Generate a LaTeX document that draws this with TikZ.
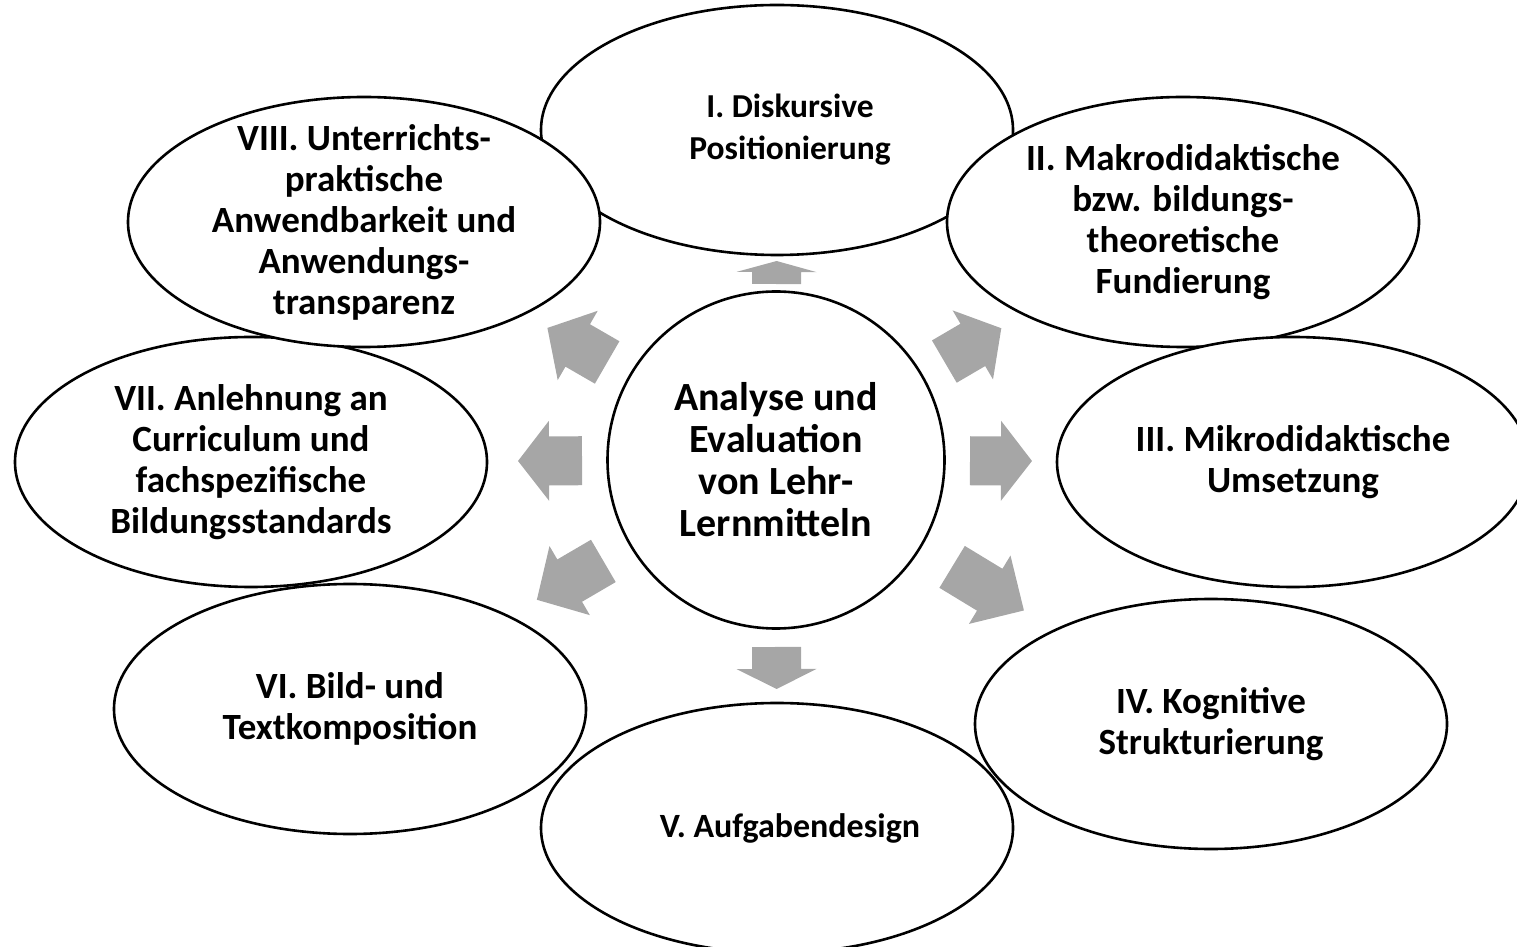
\documentclass[tikz,border=0pt]{standalone}
\usepackage{fontspec}
\setmainfont{Carlito}
\usetikzlibrary{shapes.geometric,calc}
\definecolor{arrowgray}{RGB}{166,166,166}

\begin{document}
\begin{tikzpicture}[x=1pt,y=1pt,
    bubble/.style={draw,fill=white,ellipse,line width=2.6pt,minimum width=472pt,minimum height=250pt,inner sep=0pt},
    caption/.style={align=center,inner sep=0pt,font=\fontsize{37}{41}\selectfont\bfseries},
    smallcaption/.style={caption,xshift=13pt,font=\fontsize{#1}{42}\selectfont\bfseries},
    hub/.style={draw,fill=white,circle,line width=2.6pt,minimum size=337pt,inner sep=0pt,align=center,font=\fontsize{40}{42}\selectfont\bfseries}]
  \useasboundingbox (0,0) rectangle (1517,946);
  \node[hub] (ctr) at (776,486) {Analyse und\\Evaluation\\von Lehr-\\Lernmitteln};
  \node[bubble,label={[smallcaption=33.5]center:{I. Diskursive\\Positionierung}}] (e1) at (777,816) {};
  \node[bubble,label={[caption]center:{II. Makrodidaktische\\bzw. bildungs-\\theoretische\\Fundierung}}] (e2) at (1183,724) {};
  \node[bubble,label={[caption]center:{III. Mikrodidaktische\\Umsetzung}}] (e3) at (1293,484) {};
  \node[bubble,label={[caption]center:{IV. Kognitive\\Strukturierung}}] (e4) at (1211,222) {};
  \node[bubble,label={[smallcaption=34]center:{V. Aufgabendesign}}] (e5) at (777,118) {};
  \node[bubble,label={[caption]center:{VI. Bild- und\\Textkomposition}}] (e6) at (350,237) {};
  \node[bubble,label={[caption]center:{VII. Anlehnung an\\Curriculum und\\fachspezifische\\Bildungsstandards}}] (e7) at (251,484) {};
  \node[bubble,label={[caption]center:{VIII. Unterrichts-\\praktische\\Anwendbarkeit und\\Anwendungs-\\transparenz}}] (e8) at (364,724) {};
  % block arrows from the hub out to each bubble: start / head base / tip
  \foreach \n/\a/\c/\b in {e1/176/188/199,e2/195/228/261,e3/194/225/256,e4/206/250/290,
                           e5/187/209/229,e6/200/239/277,e7/194/227/258,e8/195/229/264}{
    \coordinate (s) at ($(ctr)!\a pt!(\n)$);
    \coordinate (h) at ($(ctr)!\c pt!(\n)$);
    \coordinate (t) at ($(ctr)!\b pt!(\n)$);
    \fill[arrowgray] ($(s)!24.5pt!90:(\n)$) -- ($(h)!24.5pt!90:(\n)$) -- ($(h)!40pt!90:(\n)$) -- (t)
      -- ($(h)!40pt!-90:(\n)$) -- ($(h)!24.5pt!-90:(\n)$) -- ($(s)!24.5pt!-90:(\n)$) -- cycle;
  }
\end{tikzpicture}
\end{document}
